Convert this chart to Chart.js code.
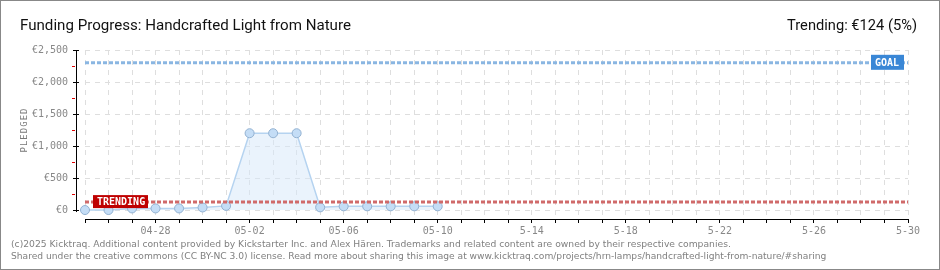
<!DOCTYPE html>
<html>
<head>
<meta charset="utf-8">
<script src="https://cdn.jsdelivr.net/npm/chart.js@4"></script>
<style>
  html, body { margin: 0; padding: 0; background: #fff; }
  #wrap { width: 940px; height: 270px; }
</style>
</head>
<body>
<div id="wrap"><canvas id="chart" width="940" height="270"></canvas></div>
<script>
// Days on the x axis (04-25 .. 05-30)
var days = ['04-25', '04-26', '04-27', '04-28', '04-29', '04-30',
    '05-01', '05-02', '05-03', '05-04', '05-05', '05-06', '05-07', '05-08', '05-09', '05-10',
    '05-11', '05-12', '05-13', '05-14', '05-15', '05-16', '05-17', '05-18', '05-19', '05-20',
    '05-21', '05-22', '05-23', '05-24', '05-25', '05-26', '05-27', '05-28', '05-29', '05-30'];

// Pledged amount per day (only first 16 days are known)
var pledged = [0, 0, 25, 25, 25, 40, 65, 1200, 1200, 1200, 42, 58, 58, 58, 58, 58];

// Labelled days on the x axis and how they are printed
var tickDays = ['04-28', '05-02', '05-06', '05-10', '05-14', '05-18', '05-22', '05-26', '05-30'];
var tickText = ['04-28', '05-02', '05-06', '05-10', '5-14', '5-18', '5-22', '5-26', '5-30'];

// Y axis ticks
var yTicks = [0, 500, 1000, 1500, 2000, 2500];
var yMinor = [250, 750, 1250, 1750, 2250];

var goal = 2300;     // funding goal
var trending = 124;  // trending projection

var titleText = 'Funding Progress: Handcrafted Light from Nature';
var trendText = 'Trending: \u20ac124 (5%)';
var footer1 = '(c)2025 Kicktraq. Additional content provided by Kickstarter Inc. and Alex H\u00e4ren. Trademarks and related content are owned by their respective companies.';
var footer2 = 'Shared under the creative commons (CC BY-NC 3.0) license. Read more about sharing this image at www.kicktraq.com/projects/hrn-lamps/handcrafted-light-from-nature/#sharing';

function euro(v) {
    return '\u20ac' + v.toLocaleString('en-US');
}

// Draw text fitted to a given width by scaling the font size
function fitText(ctx, text, family, width, x, y) {
    ctx.font = '10px ' + family;
    var size = 10 * width / ctx.measureText(text).width;
    ctx.font = size.toFixed(2) + 'px ' + family;
    ctx.fillText(text, x, y);
}

// Small label box on a reference line
function labelBox(ctx, text, x, y, w, h, color) {
    ctx.fillStyle = color;
    ctx.fillRect(x, y, w, h);
    ctx.fillStyle = '#fff';
    ctx.font = 'bold 10px "DejaVu Sans Mono"';
    ctx.textAlign = 'left';
    ctx.textBaseline = 'middle';
    ctx.fillText(text, x + 4, y + h / 2 + 1);
}

var decorations = {
    id: 'decorations',
    beforeDraw(chart) {
        var ctx = chart.ctx;
        ctx.save();
        ctx.fillStyle = '#fff';
        ctx.fillRect(0, 0, chart.width, chart.height);
        ctx.restore();
    },
    afterDraw(chart) {
        var ctx = chart.ctx;
        var xs = chart.scales.x;
        var ys = chart.scales.y;
        ctx.save();

        // y axis line drawn slightly left of the plot
        var ax = 76.5;
        ctx.strokeStyle = '#000';
        ctx.lineWidth = 1;
        ctx.beginPath();
        ctx.moveTo(ax, ys.getPixelForValue(2500));
        ctx.lineTo(ax, ys.getPixelForValue(0) + 2);
        ctx.stroke();
        yTicks.forEach(function (v) {
            var py = Math.round(ys.getPixelForValue(v)) + 0.5;
            ctx.beginPath();
            ctx.moveTo(73, py);
            ctx.lineTo(79, py);
            ctx.stroke();
        });
        ctx.strokeStyle = '#e00000';
        yMinor.forEach(function (v) {
            var py = Math.round(ys.getPixelForValue(v)) + 0.5;
            ctx.beginPath();
            ctx.moveTo(72, py);
            ctx.lineTo(75, py);
            ctx.stroke();
        });

        // y axis title
        ctx.save();
        ctx.translate(25, 130);
        ctx.rotate(-Math.PI / 2);
        ctx.fillStyle = '#777';
        ctx.font = '9px "DejaVu Sans Mono"';
        ctx.textAlign = 'center';
        ctx.textBaseline = 'middle';
        ctx.letterSpacing = '1px';
        ctx.fillText('PLEDGED', 0, 0);
        ctx.restore();

        // TRENDING and GOAL tags
        var ty = ys.getPixelForValue(trending);
        labelBox(ctx, 'TRENDING', xs.getPixelForValue(0) + 8, ty - 7, 55, 13, '#bf0000');
        var gy = ys.getPixelForValue(goal);
        labelBox(ctx, 'GOAL', xs.getPixelForValue(days.length - 1) - 37, gy - 8, 33, 15, '#3a87d6');

        // headers
        ctx.fillStyle = '#111';
        ctx.textBaseline = 'alphabetic';
        ctx.textAlign = 'left';
        fitText(ctx, titleText, 'Roboto, sans-serif', 331, 20, 30);
        ctx.textAlign = 'right';
        fitText(ctx, trendText, 'Roboto, sans-serif', 130, 917, 30);

        // footer
        ctx.fillStyle = '#808080';
        ctx.textAlign = 'left';
        fitText(ctx, footer1, '"DejaVu Sans", sans-serif', 720, 11, 247);
        fitText(ctx, footer2, '"DejaVu Sans", sans-serif', 817, 11, 259);

        // outer frame
        ctx.strokeStyle = '#888';
        ctx.lineWidth = 1;
        ctx.strokeRect(0.5, 0.5, 939, 269);
        ctx.restore();
    }
};

var ctx = document.getElementById('chart').getContext('2d');
var chart = new Chart(ctx, {
    type: 'line',
    data: {
        labels: days,
        datasets: [{
            data: pledged,
            borderColor: '#b5d3f0',
            borderWidth: 1.5,
            backgroundColor: 'rgba(214, 232, 250, 0.5)',
            fill: { value: 0 },
            tension: 0,
            pointRadius: 4.5,
            pointBackgroundColor: '#c4ddf6',
            pointBorderColor: '#93b2d2',
            pointBorderWidth: 1,
            order: 1
        }, {
            data: [{ x: days[0], y: goal }, { x: days[days.length - 1], y: goal }],
            borderColor: '#8ab6e2',
            borderWidth: 3,
            borderDash: [4, 2],
            pointRadius: 0,
            fill: false,
            order: 2
        }, {
            data: [{ x: days[0], y: trending }, { x: days[days.length - 1], y: trending }],
            borderColor: '#d06a6a',
            borderWidth: 3,
            borderDash: [4, 2],
            pointRadius: 0,
            fill: false,
            order: 0
        }]
    },
    options: {
        responsive: false,
        devicePixelRatio: 1,
        animation: false,
        layout: { padding: { top: 50, right: 32, bottom: 0, left: 0 } },
        plugins: {
            legend: { display: false },
            tooltip: { enabled: false }
        },
        scales: {
            x: {
                type: 'category',
                offset: false,
                afterFit: function (scale) { scale.height = 51; },
                grid: {
                    color: '#dedede',
                    tickColor: '#000',
                    tickLength: 4,
                    drawTicks: true
                },
                border: { display: true, color: '#000', width: 1, dash: [5, 5] },
                ticks: {
                    autoSkip: false,
                    maxRotation: 0,
                    padding: 2,
                    color: '#888',
                    font: { family: '"DejaVu Sans Mono"', size: 10 },
                    callback: function (value, index) {
                        var i = tickDays.indexOf(days[index]);
                        return i >= 0 ? tickText[i] : '';
                    }
                }
            },
            y: {
                min: -140,
                max: 2500,
                afterFit: function (scale) { scale.width = 85; },
                afterBuildTicks: function (scale) {
                    scale.ticks = yTicks.map(function (v) { return { value: v }; });
                },
                grid: {
                    color: '#dedede',
                    drawTicks: false
                },
                border: { display: false, dash: [5, 5] },
                ticks: {
                    padding: 17,
                    color: '#888',
                    font: { family: '"DejaVu Sans Mono"', size: 10 },
                    callback: function (value) { return euro(value); }
                }
            }
        }
    },
    plugins: [decorations]
});
</script>
</body>
</html>
